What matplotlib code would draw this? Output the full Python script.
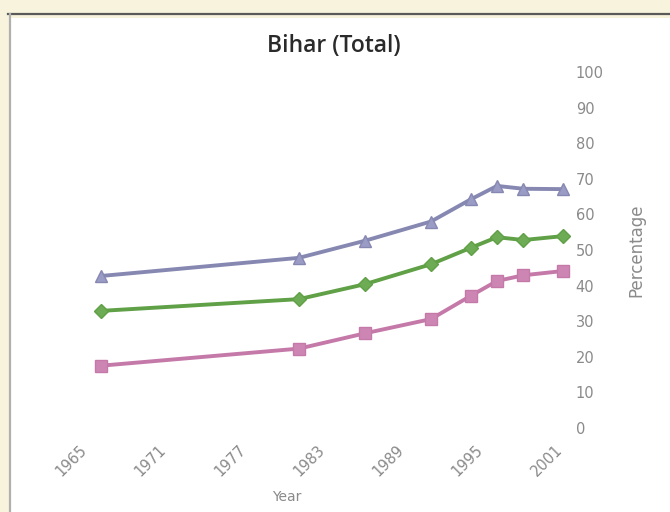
import matplotlib
matplotlib.use("Agg")
import matplotlib.pyplot as plt
from matplotlib.patches import Rectangle
from matplotlib.lines import Line2D
from matplotlib.transforms import ScaledTranslation

years = [1966, 1981, 1986, 1991, 1994, 1996, 1998, 2001]
series_top = [42.7, 47.8, 52.6, 58.0, 64.2, 68.0, 67.2, 67.1]
series_mid = [32.9, 36.2, 40.4, 46.0, 50.6, 53.6, 52.8, 53.9]
series_low = [17.5, 22.3, 26.6, 30.6, 37.1, 41.3, 42.9, 44.1]
x_ticks = [1965, 1971, 1977, 1983, 1989, 1995, 2001]
y_ticks = list(range(0, 101, 10))

W, H = 670, 512
fig = plt.figure(figsize=(W / 100, H / 100), dpi=100)
fig.patch.set_facecolor("#f8f3dd")

# white chart frame
fig.patches.append(Rectangle((10 / W, 0 / H), (W - 10) / W, (H - 14 - 4) / H,
                             transform=fig.transFigure, facecolor="white",
                             edgecolor="none", zorder=-3))
fig.lines.append(Line2D([8 / W, 1], [1 - 14 / H, 1 - 14 / H], transform=fig.transFigure,
                        color="#5a5a5a", lw=1.6, zorder=-2))
fig.lines.append(Line2D([10 / W, 10 / W], [0, 1 - 14 / H], transform=fig.transFigure,
                        color="#b0b0b0", lw=1.6, zorder=-2))

left_px, right_px, top_px, bot_px = 60, 566, 72, 428
ax = fig.add_axes([left_px / W, 1 - bot_px / H, (right_px - left_px) / W, (bot_px - top_px) / H])
ax.set_facecolor("none")
ax.set_zorder(1)

px_per_year = 13.2
x2001 = 563
ax.set_xlim(2001 - (x2001 - left_px) / px_per_year, 2001 + (right_px - x2001) / px_per_year)
ax.set_ylim(0, 100)

ax.plot(years, series_top, color="#8688b2", lw=2.8, marker="^", ms=9,
        markerfacecolor="#9a9cc6", markeredgecolor="#8688b2", zorder=3, clip_on=False)
ax.plot(years, series_mid, color="#60a046", lw=2.8, marker="D", ms=7,
        markerfacecolor="#6dab54", markeredgecolor="#60a046", zorder=3, clip_on=False)
ax.plot(years, series_low, color="#c479a9", lw=2.8, marker="s", ms=9,
        markerfacecolor="#cd86b3", markeredgecolor="#c479a9", zorder=3, clip_on=False)

for s in ax.spines.values():
    s.set_visible(False)

ax.yaxis.tick_right()
ax.set_yticks(y_ticks)
ax.set_yticklabels([str(v) for v in y_ticks], color="#8a8a8a", fontsize=10.5,
                   fontfamily="DejaVu Sans", ha="left")
ax.tick_params(axis="y", length=0, pad=7)

ax.set_xticks(x_ticks)
ax.set_xticklabels([str(v) for v in x_ticks], color="#8a8a8a", fontsize=10.5,
                   rotation=45, ha="right", va="center", rotation_mode="anchor")
ax.tick_params(axis="x", length=0, pad=14)
shift = ScaledTranslation(-3 / 100, 0, fig.dpi_scale_trans)
for lbl in ax.get_xticklabels():
    lbl.set_transform(lbl.get_transform() + shift)

fig.text(334 / W, 1 - 46 / H, "Bihar (Total)", ha="center", va="center",
         fontsize=16.5, fontfamily="Open Sans", fontweight="semibold", color="#2a2a2a")
fig.text(287 / W, 1 - 497 / H, "Year", ha="center", va="center",
         fontsize=10, color="#8a8a8a")
fig.text(636 / W, 1 - 250 / H, "Percentage", ha="center", va="center",
         rotation=90, fontsize=12, color="#8a8a8a")

fig.savefig("out.png", dpi=100, facecolor=fig.get_facecolor())
